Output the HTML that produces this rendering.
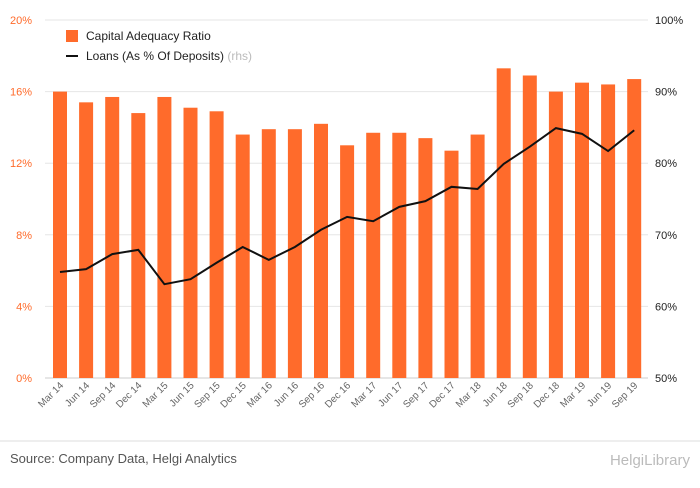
<!DOCTYPE html>
<html><head><meta charset="utf-8"><style>
body{margin:0;background:#fff;font-family:"Liberation Sans",sans-serif;}
svg text{font-family:"Liberation Sans",sans-serif;}
</style></head><body>
<svg id="c" width="700" height="483" xmlns="http://www.w3.org/2000/svg"></svg>
<script>
const categories=["Mar 14","Jun 14","Sep 14","Dec 14","Mar 15","Jun 15","Sep 15","Dec 15","Mar 16","Jun 16","Sep 16","Dec 16","Mar 17","Jun 17","Sep 17","Dec 17","Mar 18","Jun 18","Sep 18","Dec 18","Mar 19","Jun 19","Sep 19"];
const carValues=[16.0,15.4,15.7,14.8,15.7,15.1,14.9,13.6,13.9,13.9,14.2,13.0,13.7,13.7,13.4,12.7,13.6,17.3,16.9,16.0,16.5,16.4,16.7];
const loanValues=[64.8,65.2,67.3,67.9,63.1,63.8,66.1,68.3,66.5,68.3,70.7,72.5,71.9,73.9,74.7,76.7,76.4,79.9,82.3,84.9,84.1,81.7,84.6];
const leftTicks=[0,4,8,12,16,20];
const rightTicks=[50,60,70,80,90,100];
const svg=document.getElementById('c');const NS="http://www.w3.org/2000/svg";
function mk(t,a,p){const e=document.createElementNS(NS,t);for(const k in a)e.setAttribute(k,a[k]);(p||svg).appendChild(e);return e;}
const plotTop=20,bot=378,step=26.1,xc0=60;
const yL=v=>bot-(v/20)*(bot-plotTop);
const yR=v=>bot-((v-50)/50)*(bot-plotTop);
const xC=i=>xc0+i*step;
leftTicks.forEach((t)=>{
 const y=yL(t);
 const g=mk('line',{x1:45,x2:648,y1:y,y2:y,stroke:'#e6e6e6','stroke-width':1});
 
 
 const l=mk('text',{x:32,y:y+4,'font-size':11,fill:'#ff6b2b','text-anchor':'end'});l.textContent=t+'%';
 
 
});
rightTicks.forEach(t=>{
 const y=yR(t);
 const l=mk('text',{x:655,y:y+4,'font-size':11,fill:'#222'});l.textContent=t+'%';
 
 
});
mk('line',{x1:45,x2:648,y1:bot,y2:bot,stroke:'#ccc'});
categories.forEach((c,i)=>{
 const x=xC(i),v=carValues[i];
 const b=mk('rect',{x:x-7,y:yL(v),width:14,height:bot-yL(v),fill:'#ff6b2b'});
 
 
 const t=mk('text',{x:x+4,y:bot+8,'font-size':10,fill:'#666','text-anchor':'end',transform:`rotate(-45 ${x+4} ${bot+8})`});t.textContent=c;
 
 
});
const pts=loanValues.map((v,i)=>xC(i)+','+yR(v)).join(' ');
const pl=mk('polyline',{points:pts,fill:'none',stroke:'#111','stroke-width':2});


const lg=mk('g',{});


mk('rect',{x:66,y:30,width:12,height:12,fill:'#ff6b2b'},lg);
const t1=mk('text',{x:86,y:40,'font-size':12,fill:'#222'},lg);t1.textContent='Capital Adequacy Ratio';
mk('line',{x1:66,x2:78,y1:56,y2:56,stroke:'#111','stroke-width':2},lg);
const t2=mk('text',{x:86,y:60,'font-size':12,fill:'#222'},lg);t2.textContent='Loans (As % Of Deposits) ';
const t3=mk('tspan',{fill:'#bbb'},t2);t3.textContent='(rhs)';
mk('line',{x1:0,x2:700,y1:441,y2:441,stroke:'#ddd'});
const s=mk('text',{x:10,y:463,'font-size':13,fill:'#555'});s.textContent='Source: Company Data, Helgi Analytics';


const lo=mk('text',{x:690,y:465,'font-size':15,fill:'#bbb','text-anchor':'end'});lo.textContent='HelgiLibrary';


</script>
</body></html>
